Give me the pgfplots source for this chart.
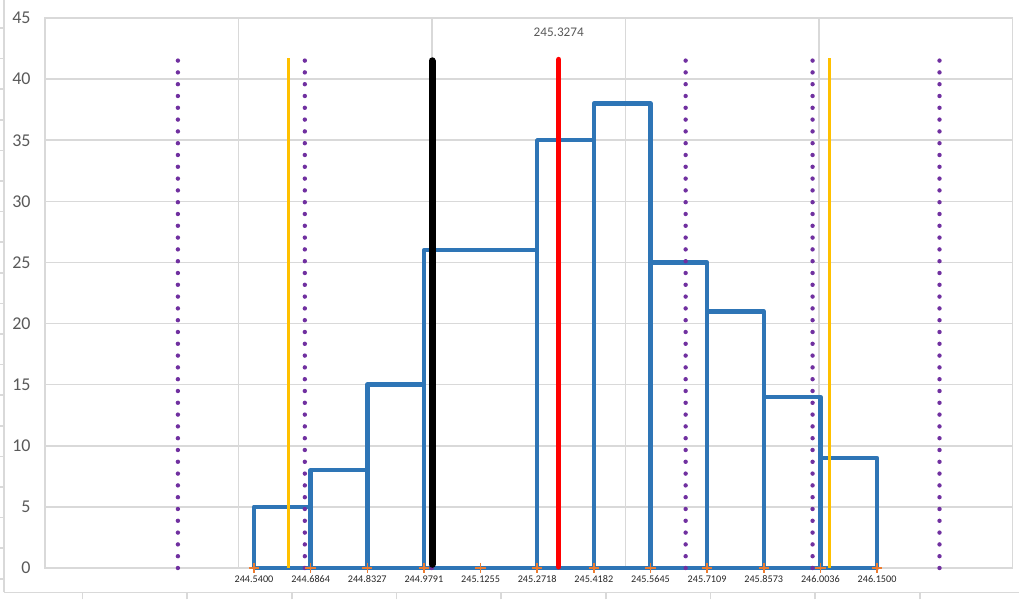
\documentclass[border=0pt]{standalone}
\usepackage{fontspec}
\setmainfont{Carlito}
\usepackage{pgfplots}
\pgfplotsset{compat=1.18}

\definecolor{xlblue}{HTML}{2E75B6}
\definecolor{xlorange}{HTML}{ED7D31}
\definecolor{xlpurple}{HTML}{7030A0}
\definecolor{xlgold}{HTML}{FFC000}
\definecolor{xlgrid}{HTML}{D9D9D9}
\definecolor{xltext}{HTML}{595959}

\begin{document}
\begin{tikzpicture}
% 1 px of the reference = 0.5pt
\useasboundingbox (-22.5pt,-16pt) rectangle (487pt,284pt);

% faint frame of the chart behind
\begin{axis}[at={(-20.5pt,-12.25pt)},anchor=origin,
 scale only axis,width=507.5pt,height=296.25pt,
 xmin=0,xmax=1015,ymin=0,ymax=592.5,
 axis x line*=bottom,axis y line*=left,axis line style={-,draw=xlgrid,line width=0.8pt},
 xtick={78.5,183,287.7,392.4,497,601.8,706.5,811,915.8},
 ytick={13.7,44.3,...,565},
 xticklabels={},yticklabels={},
 tick align=outside,major tick length=3.5pt,
 tick style={draw=xlgrid,line width=0.8pt}]
\end{axis}

\begin{axis}[at={(0,0)},anchor=origin,
 scale only axis,width=483.75pt,height=275pt,
 xmin=244,xmax=246.5,ymin=0,ymax=45,
 xtick={244,244.5,...,246.5},xticklabels={},
 ytick={0,5,...,45},
 grid=major,grid style={draw=xlgrid,line width=0.8pt},
 axis line style={draw=xlgrid,line width=0.8pt},
 major tick length=0pt,
 /pgf/number format/assume math mode=true,
 yticklabel style={font=\fontsize{9}{10}\selectfont,text=xltext,inner sep=0pt,anchor=east,xshift=-7pt},
 extra x ticks={244.5400,244.6864,244.8327,244.9791,245.1255,245.2718,245.4182,245.5645,245.7109,245.8573,246.0036,246.1500},
 extra x tick labels={244.5400,244.6864,244.8327,244.9791,245.1255,245.2718,245.4182,245.5645,245.7109,245.8573,246.0036,246.1500},
 extra x tick style={grid=none,major tick length=0pt,
   xticklabel style={font=\fontsize{5.1}{6}\selectfont,text=black!85,inner sep=0pt,anchor=north,yshift=-3.5pt}},
 clip=false]

% histogram outline
\addplot[xlblue,line width=2.25pt,line join=round] coordinates {
 (244.5400,0) (244.5400,5) (244.6864,5) (244.6864,0)
 (244.6864,8) (244.8327,8) (244.8327,0)
 (244.8327,15) (244.9791,15) (244.9791,0)
 (244.9791,26) (245.1255,26) (245.2718,26) (245.2718,0)
 (245.2718,35) (245.4182,35) (245.4182,0)
 (245.4182,38) (245.5645,38) (245.5645,0)
 (245.5645,25) (245.7109,25) (245.7109,0)
 (245.7109,21) (245.8573,21) (245.8573,0)
 (245.8573,14) (246.0036,14) (246.0036,0)
 (246.0036,9) (246.1500,9) (246.1500,0)
 (244.5400,0)};

% sigma lines
\foreach \s in {244.3434,244.6714,244.9994,245.6554,245.9834,246.3114}{
 \edef\tmp{\noexpand\addplot[xlpurple,line width=2.2pt,line cap=round,dash pattern=on 0pt off 5.9pt]
   coordinates {(\s,0) (\s,41.6)};}
 \tmp}

% limits
\addplot[xlgold,line width=1.5pt] coordinates {(244.628,0) (244.628,41.7)};
\addplot[xlgold,line width=1.5pt] coordinates {(246.026,0) (246.026,41.7)};

% black and mean lines
\addplot[black,line width=3.5pt,line cap=round] coordinates {(245.0,0.3) (245.0,41.5)};
\addplot[red,line width=2.75pt,line cap=round] coordinates {(245.3274,0.1) (245.3274,41.6)};

% bin edges
\addplot[only marks,mark=+,mark size=2.6pt,xlorange,mark options={line width=0.75pt}] coordinates {
 (244.5400,0) (244.6864,0) (244.8327,0) (244.9791,0) (245.1255,0) (245.2718,0)
 (245.4182,0) (245.5645,0) (245.7109,0) (245.8573,0) (246.0036,0) (246.1500,0)};

\node[font=\fontsize{6.6}{7}\selectfont,text=xltext,inner sep=0pt] at (axis cs:245.3274,43.8) {245.3274};
\end{axis}
\end{tikzpicture}
\end{document}
